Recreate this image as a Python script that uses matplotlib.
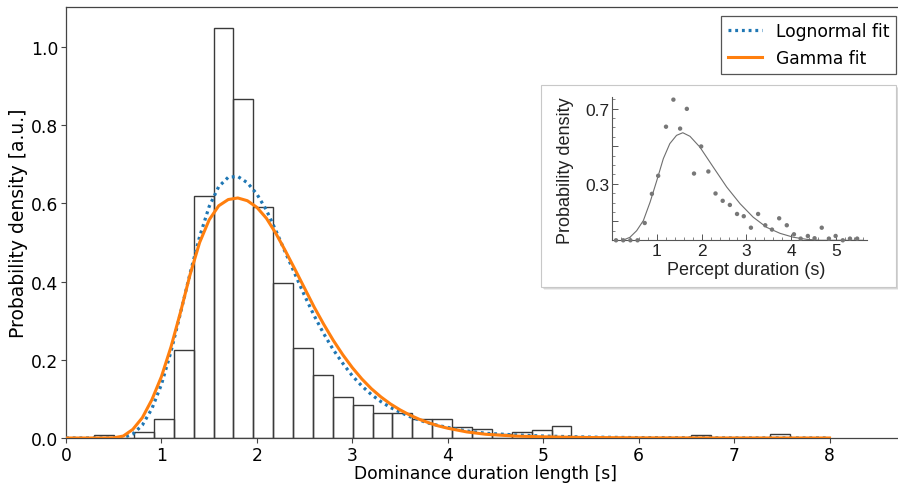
import numpy as np
import matplotlib
matplotlib.use("Agg")
import matplotlib.pyplot as plt
from matplotlib.patches import Rectangle
from matplotlib.ticker import MultipleLocator, FixedLocator, FixedFormatter

# ---------------- data ----------------
bin_edges = np.linspace(0.296, 7.587, 36)
bin_heights = [0.0068, 0.0, 0.0145, 0.048, 0.226, 0.620, 1.050, 0.867, 0.590, 0.397,
               0.230, 0.160, 0.106, 0.084, 0.064, 0.064, 0.048, 0.048, 0.027, 0.023,
               0.011, 0.015, 0.021, 0.030, 0.0, 0.0, 0.0, 0.0, 0.0, 0.0,
               0.007, 0.0, 0.0, 0.0, 0.009]

lognorm_x = [0.0, 0.5, 0.6, 0.7, 0.8, 0.9, 1.0, 1.1, 1.2, 1.3, 1.4, 1.5, 1.6, 1.7, 1.8,
             1.9, 2.0, 2.1, 2.2, 2.3, 2.4, 2.5, 2.6, 2.7, 2.8, 2.9, 3.0, 3.1, 3.2, 3.3,
             3.4, 3.5, 3.6, 3.7, 3.8, 3.9, 4.0, 4.2, 4.4, 4.7, 5.0, 5.5, 6.0, 7.0, 8.0]
lognorm_y = [0.0, 0.0, 0.001, 0.010, 0.033, 0.075, 0.137, 0.221, 0.320, 0.421, 0.515,
             0.592, 0.643, 0.667, 0.669, 0.653, 0.624, 0.583, 0.530, 0.474, 0.419, 0.364,
             0.313, 0.267, 0.226, 0.191, 0.159, 0.133, 0.111, 0.093, 0.078, 0.066, 0.055,
             0.046, 0.038, 0.032, 0.027, 0.018, 0.012, 0.008, 0.005, 0.0022, 0.001,
             0.0002, 0.00005]

gamma_x = [0.0, 0.4, 0.5, 0.6, 0.7, 0.8, 0.9, 1.0, 1.1, 1.2, 1.3, 1.4, 1.5, 1.6, 1.7,
           1.8, 1.9, 2.0, 2.1, 2.2, 2.3, 2.4, 2.5, 2.6, 2.7, 2.8, 2.9, 3.0, 3.1, 3.2,
           3.3, 3.4, 3.5, 3.6, 3.7, 3.8, 3.9, 4.0, 4.2, 4.4, 4.7, 5.0, 5.5, 6.0, 7.0, 8.0]
gamma_y = [0.0, 0.0, 0.0005, 0.005, 0.022, 0.052, 0.098, 0.157, 0.233, 0.322, 0.418,
           0.500, 0.558, 0.594, 0.610, 0.614, 0.607, 0.590, 0.562, 0.523, 0.478, 0.431,
           0.383, 0.335, 0.291, 0.250, 0.213, 0.180, 0.151, 0.126, 0.105, 0.087, 0.072,
           0.059, 0.048, 0.039, 0.031, 0.025, 0.0155, 0.0095, 0.005, 0.003, 0.0012,
           0.0004, 0.00005, 0.0]

# inset (percept duration data)
inset_dots_x = [0.09, 0.25, 0.41, 0.57, 0.73, 0.89, 1.03, 1.205, 1.37, 1.52, 1.67, 1.83,
                1.99, 2.15, 2.31, 2.47, 2.63, 2.79, 2.94, 3.10, 3.26, 3.42, 3.57, 3.73,
                3.90, 4.06, 4.21, 4.37, 4.52, 4.68, 4.84, 4.99, 5.15, 5.31, 5.47]
inset_dots_y = [0.0, 0.0, 0.0, 0.0, 0.092, 0.247, 0.343, 0.604, 0.748, 0.594, 0.699, 0.355,
                0.499, 0.366, 0.249, 0.210, 0.188, 0.140, 0.128, 0.067, 0.140, 0.080, 0.057,
                0.117, 0.080, 0.032, 0.009, 0.023, 0.011, 0.067, 0.009, 0.023, 0.0, 0.009,
                0.009]
inset_fit_x = [0.24, 0.40, 0.55, 0.70, 0.85, 1.0, 1.145, 1.29, 1.44, 1.58, 1.74, 1.89,
               1.96, 2.26, 2.56, 2.86, 3.15, 3.45, 3.75, 4.05, 4.35, 4.65, 5.6]
inset_fit_y = [0.0, 0.016, 0.051, 0.105, 0.203, 0.318, 0.434, 0.514, 0.558, 0.572, 0.553,
               0.514, 0.496, 0.389, 0.283, 0.194, 0.123, 0.069, 0.037, 0.016, 0.005, 0.0, 0.0]

x_ticks = [0, 1, 2, 3, 4, 5, 6, 7, 8]
y_ticks = [0.0, 0.2, 0.4, 0.6, 0.8, 1.0]
inset_x_ticks = [1, 2, 3, 4, 5]
inset_y_ticks = [0.1, 0.3, 0.5, 0.7]
inset_y_ticklabels = ["", "0.3", "", "0.7"]

# ---------------- figure ----------------
W, H = 898, 485
fig = plt.figure(figsize=(W / 100, H / 100), dpi=100)
plt.rcParams['font.family'] = ['DejaVu Sans']

def fx(px):
    return px / W

def fy(py):
    return (H - py) / H

FS = 12.3
ax = fig.add_axes([fx(66), fy(439), fx(905) - fx(66), fy(8) - fy(439)])
edges = np.asarray(bin_edges)
ax.bar(edges[:-1], bin_heights, width=np.diff(edges), align='edge', fill=False,
       edgecolor='#3a3a3a', linewidth=1.0, zorder=1)
ax.plot(lognorm_x, lognorm_y, color='#1f77b4', linestyle=(0, (0.9, 1.2)), linewidth=2.3,
        label='Lognormal fit', zorder=3)
ax.plot(gamma_x, gamma_y, color='#ff7f0e', linewidth=2.2, label='Gamma fit', zorder=4)

ax.set_xlim(0, (905 - 66) / 95.44)
ax.set_ylim(0, 1.1025)
ax.set_xticks(x_ticks)
ax.set_yticks(y_ticks)
ax.set_yticklabels([f"{v:.1f}" for v in y_ticks])
ax.tick_params(labelsize=FS, length=3.5, pad=2, color='#444444')
for s in ax.spines.values():
    s.set_color('#444444')
    s.set_linewidth(0.9)
ax.set_xlabel('Dominance duration length [s]', fontsize=FS, labelpad=0.3)
ax.set_ylabel('Probability density [a.u.]', fontsize=13.5, labelpad=2)
leg = ax.legend(loc='upper right', fontsize=FS, fancybox=False, edgecolor='#555555',
                framealpha=1.0, borderaxespad=0.5)
leg.get_frame().set_linewidth(0.9)

# ---------------- inset panel (box + shadow) ----------------
bx0, by0, bx1, by1 = 541, 86, 896, 288
for i, a in enumerate([0.10, 0.14, 0.18]):
    off = 3 - i
    fig.patches.append(Rectangle((fx(bx0 + off), fy(by1 + off)), fx(bx1 - bx0), fy(by0) - fy(by1),
                                 transform=fig.transFigure, facecolor='#555555', alpha=a,
                                 edgecolor='none', zorder=2))
fig.patches.append(Rectangle((fx(bx0), fy(by1)), fx(bx1 - bx0), fy(by0) - fy(by1),
                             transform=fig.transFigure, facecolor='white',
                             edgecolor='#c8c8c8', linewidth=0.8, zorder=3))

ix = fig.add_axes([fx(612), fy(241.3), fx(867) - fx(612), fy(98) - fy(241.3)])
ix.set_zorder(5)
ix.patch.set_alpha(0)
ix.plot(inset_fit_x, inset_fit_y, color='#6e6e6e', linewidth=0.8)
ix.scatter(inset_dots_x, inset_dots_y, s=10, color='#777777', edgecolors='none', zorder=3,
           clip_on=False)
ix.set_xlim(0, 5.69)
ix.set_ylim(0, 0.762)
for k in ['top', 'right']:
    ix.spines[k].set_visible(False)
for k in ['left', 'bottom']:
    ix.spines[k].set_color('#555555')
    ix.spines[k].set_linewidth(0.8)
ix.xaxis.set_major_locator(FixedLocator(inset_x_ticks))
ix.xaxis.set_minor_locator(MultipleLocator(0.2))
ix.yaxis.set_major_locator(FixedLocator(inset_y_ticks))
ix.yaxis.set_major_formatter(FixedFormatter(inset_y_ticklabels))
ix.yaxis.set_minor_locator(MultipleLocator(0.05))
ix.tick_params(which='major', direction='in', length=4, width=0.7, color='#555555',
               labelsize=12.5, pad=2)
ix.tick_params(which='minor', direction='in', length=2, width=0.5, color='#555555')
for lab in ix.get_xticklabels() + ix.get_yticklabels():
    lab.set_family('Liberation Sans')
    lab.set_color('#222222')
ix.set_xlabel('Percept duration (s)', fontsize=13, family='Liberation Sans', color='#222222')
ix.set_ylabel('Probability density', fontsize=13, family='Liberation Sans', color='#222222')
ix.xaxis.set_label_coords(0.525, -0.145)
ix.yaxis.set_label_coords(-0.15, 0.49)

fig.savefig('out.png', dpi=100)
